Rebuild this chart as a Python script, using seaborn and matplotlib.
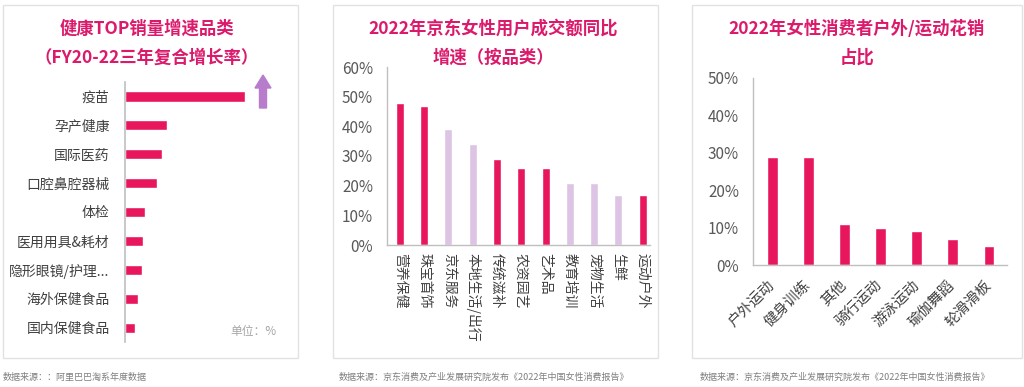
import matplotlib.pyplot as plt
import matplotlib.patches as mpatches
import pandas as pd
import seaborn as sns

sns.set_style('white')
plt.rcParams['font.family'] = ['Noto Sans CJK SC', 'DejaVu Sans']

# 数据
health_cats = ['疫苗', '孕产健康', '国际医药', '口腔鼻腔器械', '体检', '医用用具&耗材',
               '隐形眼镜/护理...', '海外保健食品', '国内保健食品']
health_vals = [120, 42, 37, 32, 20, 18, 17, 13, 10]

jd_cats = ['营养保健', '珠宝首饰', '京东服务', '本地生活/出行', '传统滋补', '农资园艺',
           '艺术品', '教育培训', '宠物生活', '生鲜', '运动户外']
jd_vals = [0.48, 0.47, 0.39, 0.34, 0.29, 0.26, 0.26, 0.21, 0.21, 0.17, 0.17]
jd_highlight = [True, True, False, False, True, True, True, False, False, False, True]

sport_cats = ['户外运动', '健身训练', '其他', '骑行运动', '游泳运动', '瑜伽舞蹈', '轮滑滑板']
sport_vals = [0.29, 0.29, 0.11, 0.10, 0.09, 0.07, 0.05]

PINK = '#E8175D'
LIGHT = '#DEC4E4'
TITLE = '#DB1A6C'
GREY_AX = '#BFBFBF'
GREY_TXT = '#595959'

W, H = 1024, 387
fig = plt.figure(figsize=(W / 100, H / 100), dpi=100)


def px_axes(x0, y0, x1, y1):
    # 像素坐标（左上为原点）转换为 figure 坐标
    return fig.add_axes([x0 / W, 1 - y1 / H, (x1 - x0) / W, (y1 - y0) / H])


def box(x0, y0, x1, y1):
    fig.patches.append(mpatches.Rectangle((x0 / W, 1 - y1 / H), (x1 - x0) / W, (y1 - y0) / H,
                                          transform=fig.transFigure, fill=False,
                                          edgecolor='#E2E2E2', linewidth=1))


def title(x, lines):
    for y, t in zip([29, 58], lines):
        fig.text(x / W, 1 - y / H, t, ha='center', va='center', fontsize=12.5,
                 fontweight='bold', color=TITLE)


def source(x, t):
    fig.text(x / W, 1 - 377 / H, t, ha='left', va='center', fontsize=6.5, color='#7F7F7F')


box(3, 5, 298, 358)
box(333, 5, 658, 358)
box(692, 5, 1022, 358)

# 图1：健康TOP销量增速品类
ax1 = px_axes(125, 82, 295, 342)
df1 = pd.DataFrame({'cat': health_cats, 'val': health_vals})
sns.barplot(data=df1, x='val', y='cat', orient='h', color=PINK, width=0.35,
            saturation=1, ax=ax1)
ax1.set_xlim(0, 170)
ax1.set_ylim(8.5, -0.5)
ax1.set_xlabel('')
ax1.set_ylabel('')
ax1.set_xticks([])
ax1.tick_params(axis='y', length=0, pad=11, labelsize=10, labelcolor='#404040')
for s in ['top', 'right', 'bottom']:
    ax1.spines[s].set_visible(False)
ax1.spines['left'].set_color(GREY_AX)
ax1.spines['left'].set_linewidth(1.2)
title(147, ['健康TOP销量增速品类', '（FY20-22三年复合增长率）'])
fig.patches.append(mpatches.FancyArrow(263 / W, 1 - 108 / H, 0, 33 / H, width=7 / W,
                                       head_width=16 / W, head_length=13 / H,
                                       length_includes_head=True, color='#B77DCC',
                                       transform=fig.transFigure))
fig.text(230 / W, 1 - 332 / H, '单位：%', fontsize=8.5, color='#A6A6A6', va='center')
source(3, '数据来源：：阿里巴巴淘系年度数据')

# 图2：2022年京东女性用户成交额同比增速
ax2 = px_axes(387, 67, 650, 245)
df2 = pd.DataFrame({'cat': jd_cats, 'val': jd_vals})
pal2 = {c: (PINK if h else LIGHT) for c, h in zip(jd_cats, jd_highlight)}
sns.barplot(data=df2, x='cat', y='val', hue='cat', palette=pal2, legend=False,
            width=0.33, saturation=1, ax=ax2)
ax2.set_xlim(-0.53, 10.3)
ax2.set_ylim(0, 0.6)
ax2.set_yticks([0, 0.1, 0.2, 0.3, 0.4, 0.5, 0.6])
ax2.set_yticklabels(['0%', '10%', '20%', '30%', '40%', '50%', '60%'])
ax2.set_xticks(range(len(jd_cats)))
ax2.set_xticklabels(jd_cats, rotation=-90, va='top', ha='center')
ax2.set_xlabel('')
ax2.set_ylabel('')
ax2.tick_params(axis='y', length=0, pad=10, labelsize=11, labelcolor=GREY_TXT)
ax2.tick_params(axis='x', length=0, pad=6, labelsize=10, labelcolor='#404040')
for s in ['top', 'right']:
    ax2.spines[s].set_visible(False)
for s in ['left', 'bottom']:
    ax2.spines[s].set_color(GREY_AX)
    ax2.spines[s].set_linewidth(1)
title(493, ['2022年京东女性用户成交额同比', '增速（按品类）'])
source(339, '数据来源：京东消费及产业发展研究院发布《2022年中国女性消费报告》')

# 图3：2022年女性消费者户外/运动花销占比
ax3 = px_axes(753, 78, 1007, 265)
df3 = pd.DataFrame({'cat': sport_cats, 'val': sport_vals})
sns.barplot(data=df3, x='cat', y='val', color=PINK, width=0.3, saturation=1, ax=ax3)
ax3.set_xlim(-0.53, 6.5)
ax3.set_ylim(0, 0.5)
ax3.set_yticks([0, 0.1, 0.2, 0.3, 0.4, 0.5])
ax3.set_yticklabels(['0%', '10%', '20%', '30%', '40%', '50%'])
ax3.set_xticks(range(len(sport_cats)))
ax3.set_xticklabels(sport_cats, rotation=45, ha='right', va='center', rotation_mode='anchor')
ax3.set_xlabel('')
ax3.set_ylabel('')
ax3.tick_params(axis='y', length=0, pad=10, labelsize=11, labelcolor=GREY_TXT)
ax3.tick_params(axis='x', length=0, pad=13, labelsize=10.5, labelcolor='#404040')
for s in ['top', 'right']:
    ax3.spines[s].set_visible(False)
for s in ['left', 'bottom']:
    ax3.spines[s].set_color(GREY_AX)
    ax3.spines[s].set_linewidth(1)
title(857, ['2022年女性消费者户外/运动花销', '占比'])
source(700, '数据来源：京东消费及产业发展研究院发布《2022年中国女性消费报告》')

fig.savefig('out.png', dpi=100)
